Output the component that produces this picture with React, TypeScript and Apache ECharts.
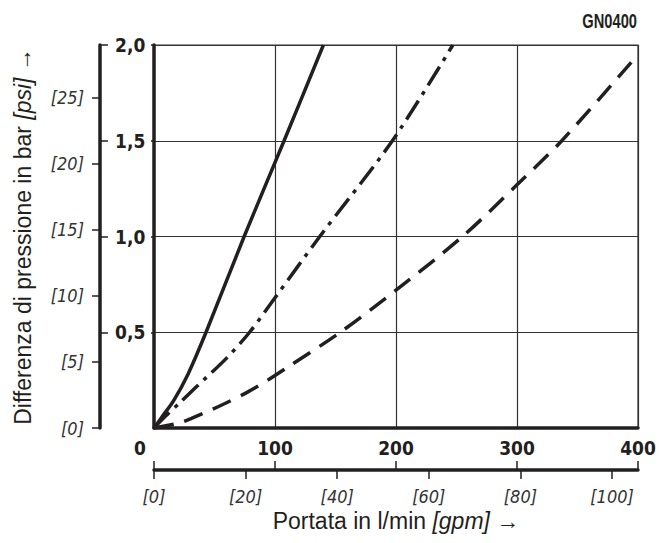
import React, { useEffect, useRef } from "react";
import * as echarts from "echarts";

// ---- data ----
const flowTicks = [0, 100, 200, 300, 400]; // l/min
const barTicks = [0.5, 1.0, 1.5, 2.0]; // bar
const psiTicks = [0, 5, 10, 15, 20, 25]; // psi
const gpmTicks = [0, 20, 40, 60, 80, 100]; // gpm

const LPM_PER_GPM = 3.785411784;
const PSI_PER_BAR = 14.5037738;

// solid curve
const solidFlow = [0, 8, 16, 28, 43, 74.5, 107.5, 140];
const solidBar = [0, 0.07, 0.14, 0.28, 0.5, 1.0, 1.5, 2.0];
// dash-dot curve
const dashDotFlow = [0, 10, 21, 35, 60, 79, 100, 137, 197, 247];
const dashDotBar = [0, 0.065, 0.13, 0.215, 0.365, 0.5, 0.68, 1.0, 1.5, 2.0];
// dashed curve
const dashedFlow = [0, 21, 31, 56, 78, 94, 111, 154, 200, 255, 300, 337, 400];
const dashedBar = [0, 0.026, 0.05, 0.12, 0.19, 0.25, 0.32, 0.5, 0.72, 1.0, 1.27, 1.5, 1.95];

const zip = (xs: number[], ys: number[]) => xs.map((x, i) => [x, ys[i]]);

const INK = "#231f20";
const GRIDC = "#333333";
const TITLE_FONT = "'Liberation Sans', Arial, Helvetica, sans-serif";
const NUM_FONT = "'DejaVu Sans Condensed', 'Liberation Sans', Arial, sans-serif";
const IT_FONT = "'DejaVu Sans Condensed', 'DejaVu Sans', sans-serif";

export default function App() {
  const ref = useRef<HTMLDivElement>(null);

  useEffect(() => {
    if (!ref.current) return;
    const chart = echarts.init(ref.current, null, { renderer: "svg" });
    const lineBase = { type: "line", xAxisIndex: 0, yAxisIndex: 0, showSymbol: false, symbol: "none", smooth: 0.3, silent: true };
    chart.setOption({
      animation: false,
      backgroundColor: "#ffffff",
      graphic: [
        {
          type: "text",
          x: 637,
          y: 21,
          scaleX: 0.7,
          silent: true,
          style: { text: "GN0400", align: "right", verticalAlign: "middle", fill: INK, fontFamily: TITLE_FONT, fontWeight: "bold", fontSize: 21 },
        },
      ],
      grid: { left: 154, right: 26, top: 45, bottom: 115, show: true, borderColor: GRIDC, borderWidth: 1.2, backgroundColor: "transparent" },
      xAxis: [
        {
          type: "value", position: "bottom", offset: 0, min: 0, max: 400, interval: 100,
          axisLine: { show: true, onZero: false, lineStyle: { color: INK, width: 3.5 } },
          axisTick: { show: false },
          splitLine: { show: true, lineStyle: { color: GRIDC, width: 1.2 } },
          axisLabel: {
            margin: 10, color: INK, fontFamily: NUM_FONT, fontWeight: "bold", fontSize: 19,
            formatter: (v: number) => (v === 0 ? "{z|0}" : String(v)),
            rich: { z: { padding: [0, 28, 0, 0], fontFamily: NUM_FONT, fontWeight: "bold", fontSize: 19, color: INK } },
          },
        },
        {
          type: "value", position: "bottom", offset: 42, min: 0, max: 400,
          axisLine: { show: true, onZero: false, lineStyle: { color: INK, width: 3.5 } },
          axisTick: { show: true, inside: true, length: 9, customValues: flowTicks, lineStyle: { color: INK, width: 1.5 } },
          splitLine: { show: false },
          axisLabel: { show: false },
        },
        {
          type: "value", position: "bottom", offset: 42, min: 0, max: 400 / LPM_PER_GPM,
          axisLine: { show: false, onZero: false },
          axisTick: { show: true, inside: false, length: 9, customValues: gpmTicks, lineStyle: { color: INK, width: 1.5 } },
          splitLine: { show: false },
          axisLabel: {
            show: true, margin: 17, customValues: gpmTicks, color: "#333", fontFamily: IT_FONT, fontStyle: "italic", fontSize: 18,
            formatter: (v: number) => "[" + v + "]",
          },
          name: "Portata in l/min {i|[gpm]} →",
          nameLocation: "middle",
          nameGap: 39,
          nameTextStyle: {
            fontFamily: TITLE_FONT, fontSize: 23, color: INK,
            rich: { i: { fontFamily: TITLE_FONT, fontSize: 23, fontStyle: "italic", color: INK } },
          },
        },
      ],
      yAxis: [
        {
          type: "value", position: "left", offset: 0, min: 0, max: 2, interval: 0.5,
          axisLine: { show: true, onZero: false, lineStyle: { color: INK, width: 3.5 } },
          axisTick: { show: true, inside: false, length: 3, customValues: barTicks, lineStyle: { color: INK, width: 1.5 } },
          splitLine: { show: true, lineStyle: { color: GRIDC, width: 1.2 } },
          axisLabel: { show: false },
        },
        {
          type: "value", position: "left", offset: 54, min: 0, max: 2,
          axisLine: { show: true, onZero: false, lineStyle: { color: INK, width: 3.5 } },
          axisTick: { show: true, inside: true, length: 8, customValues: barTicks, lineStyle: { color: INK, width: 1.5 } },
          splitLine: { show: false },
          axisLabel: {
            show: true, inside: true, margin: 15, customValues: barTicks, color: INK, fontFamily: NUM_FONT, fontWeight: "bold", fontSize: 19,
            formatter: (v: number) => v.toFixed(1).replace(".", ","),
          },
        },
        {
          type: "value", position: "left", offset: 54, min: 0, max: 2 * PSI_PER_BAR,
          axisLine: { show: false, onZero: false },
          axisTick: { show: true, inside: false, length: 8, customValues: psiTicks, lineStyle: { color: INK, width: 1.5 } },
          splitLine: { show: false },
          axisLabel: {
            show: true, margin: 16, customValues: psiTicks, color: "#333", fontFamily: IT_FONT, fontStyle: "italic", fontSize: 18,
            formatter: (v: number) => "[" + v + "]",
          },
          name: "Differenza di pressione in bar {i|[psi]} →",
          nameLocation: "middle",
          nameRotate: 90,
          nameGap: 66,
          nameTextStyle: {
            fontFamily: TITLE_FONT, fontSize: 23, color: INK,
            rich: { i: { fontFamily: TITLE_FONT, fontSize: 23, fontStyle: "italic", color: INK } },
          },
        },
      ],
      series: [
        { ...lineBase, name: "solid", data: zip(solidFlow, solidBar), lineStyle: { color: INK, width: 3.5, type: "solid" } },
        { ...lineBase, name: "dashdot", data: zip(dashDotFlow, dashDotBar), lineStyle: { color: INK, width: 3.5, type: [22, 7, 4, 7] } },
        { ...lineBase, name: "dashed", data: zip(dashedFlow, dashedBar), lineStyle: { color: INK, width: 3.5, type: [20, 11] } },
      ],
    });
    return () => chart.dispose();
  }, []);

  return <div ref={ref} style={{ position: "absolute", left: 0, top: 0, width: 664, height: 543 }} />;
}
